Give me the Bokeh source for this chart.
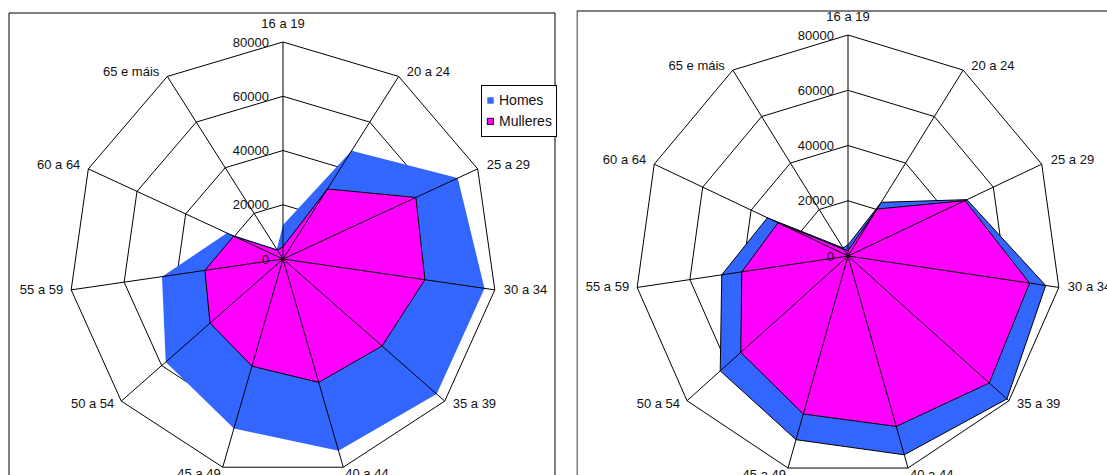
import numpy as np
from bokeh.plotting import figure
from bokeh.models import Range1d, Legend, LegendItem
from bokeh.layouts import row
from bokeh.embed import file_html
from bokeh.resources import INLINE
from bokeh.core.properties import value

# ---------------- data ----------------
categories = ["16 a 19", "20 a 24", "25 a 29", "30 a 34", "35 a 39", "40 a 44",
              "45 a 49", "50 a 54", "55 a 59", "60 a 64", "65 e máis"]
ticks = [0, 20000, 40000, 60000, 80000]
tick_labels = ["0", "20000", "40000", "60000", "80000"]
series_names = ["Homes", "Mulleres"]

left_homes = [12500, 47400, 71800, 76100, 76000, 73700, 65100, 58000, 45700, 23000, 4300]
left_mulleres = [4500, 30700, 54600, 53600, 49000, 47400, 41200, 36100, 29500, 20300, 3900]

right_homes = [4000, 23100, 49100, 75000, 79000, 75000, 69300, 63500, 47900, 33300, 3500]
right_mulleres = [2000, 20200, 48300, 68900, 70200, 64300, 59600, 53300, 40300, 28900, 2800]

# ---------------- style / layout ----------------
BLUE = "#3366FF"
MAGENTA = "#FF00FF"
FONT_NAME = "Liberation Sans"
FONT = value(FONT_NAME)
RMAX = ticks[-1]
PAGE_TOP = 0
FIG_H = 475
# per-category label placement (screen px): horizontal shift, vertical shift (down), alignment
LBL_DX = [0, 8, 9, 9, 8, 2, -2, -7, -8, -8, -8]
LBL_DY = [-19, -4.6, -4.5, -0.8, 2.5, 6, 6, 2.5, -0.8, -4.5, -4.6]
LBL_AL = ["center", "left", "left", "left", "left", "left",
          "right", "right", "right", "right", "right"]


def radar(width, page_left, cx, cy, rx, ry, box, homes, mulleres, outline_homes, with_legend):
    fx = cx - page_left
    fy = cy - PAGE_TOP
    sx = rx / RMAX
    sy = ry / RMAX
    p = figure(width=width, height=FIG_H, output_backend="svg", toolbar_location=None,
               x_range=Range1d(-fx / sx, (width - fx) / sx),
               y_range=Range1d(-(FIG_H - fy) / sy, fy / sy),
               x_axis_location=None, y_axis_location=None, min_border=0,
               outline_line_color=None, background_fill_color="white",
               border_fill_color="white")
    p.grid.visible = False

    def px_x(px):
        return (px - page_left - fx) / sx

    def px_y(py):
        return (fy - (py - PAGE_TOP)) / sy

    # chart-area frame (its bottom, and for the right chart its right side, lie outside the view)
    bl, bt, br = box
    bottom = px_y(FIG_H + 60)
    p.line(x=[px_x(bl), px_x(bl), px_x(br), px_x(br)],
           y=[bottom, px_y(bt), px_y(bt), bottom],
           line_color="black", line_width=1)

    n = len(categories)
    ang = np.arange(n) * 2 * np.pi / n
    s, c = np.sin(ang), np.cos(ang)

    # rings
    rxs = [list(np.append(t * s, t * s[0])) for t in ticks[1:]]
    rys = [list(np.append(t * c, t * c[0])) for t in ticks[1:]]
    p.multi_line(rxs, rys, line_color="black", line_width=1)

    h = np.array(homes, dtype=float)
    m = np.array(mulleres, dtype=float)
    r_h = p.patch(list(h * s), list(h * c), fill_color=BLUE, fill_alpha=1,
                  line_color="black" if outline_homes else None, line_width=1)
    r_m = p.patch(list(m * s), list(m * c), fill_color=MAGENTA, fill_alpha=1,
                  line_color="black", line_width=1)

    # spokes
    p.segment(x0=[0] * n, y0=[0] * n, x1=list(RMAX * s), y1=list(RMAX * c),
              line_color="black", line_width=1)

    # value labels
    p.text(x=[0] * len(ticks), y=ticks, text=tick_labels, x_offset=-14,
           text_align="right", text_baseline="middle", text_font=FONT,
           text_font_size="13px", text_color="#111111")

    # category labels
    lx = [RMAX * s[i] + LBL_DX[i] / sx for i in range(n)]
    ly = [RMAX * c[i] - LBL_DY[i] / sy for i in range(n)]
    for al in ("left", "right", "center"):
        idx = [i for i in range(n) if LBL_AL[i] == al]
        p.text(x=[lx[i] for i in idx], y=[ly[i] for i in idx], text=[categories[i] for i in idx],
               text_align=al, text_baseline="middle", text_font=FONT,
               text_font_size="13px", text_color="#111111")

    if with_legend:
        lg = Legend(items=[LegendItem(label=series_names[0], renderers=[r_h]),
                           LegendItem(label=series_names[1], renderers=[r_m])],
                    location=(481 - page_left, PAGE_TOP + FIG_H - 136.5),
                    orientation="vertical", padding=4, spacing=0, margin=0,
                    glyph_width=8, glyph_height=8, label_standoff=5, label_height=21,
                    label_text_font=FONT_NAME, label_text_font_size="14px",
                    label_text_color="#111111",
                    border_line_color="black", border_line_width=1, border_line_alpha=1,
                    background_fill_color="white", background_fill_alpha=1)
        p.add_layout(lg)
    return p


p1 = radar(576, 0, 282.5, 258.5, 214, 217, (8.5, 12.5, 554.5),
           left_homes, left_mulleres, False, True)
p2 = radar(531, 576, 847.5, 255.5, 213, 221, (576.5, 10.5, 1300),
           right_homes, right_mulleres, True, False)

layout = row(p1, p2)
open("out.html", "w").write(file_html(layout, INLINE))
